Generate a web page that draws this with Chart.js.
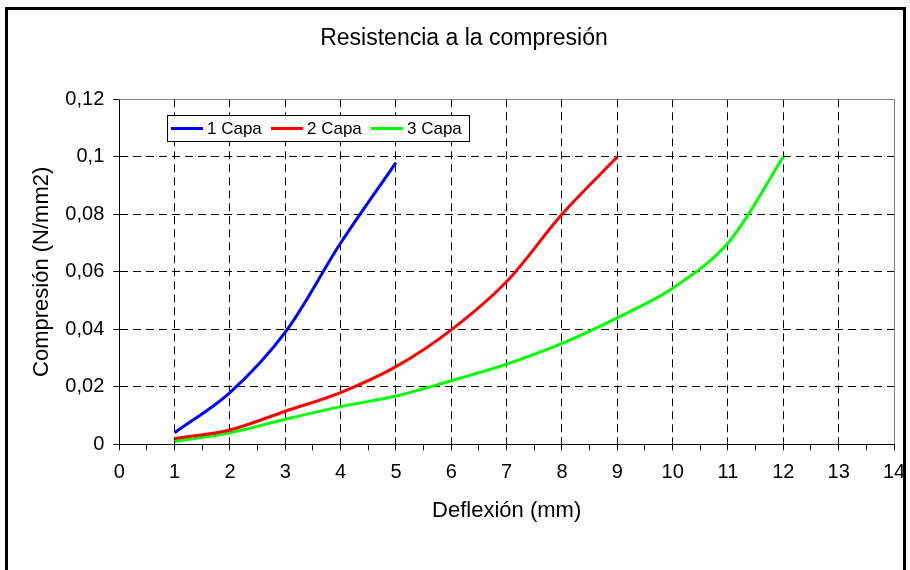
<!DOCTYPE html>
<html lang="es">

<head>
  <meta charset="UTF-8">
  <title>Resistencia a la compresión</title>
  <!-- Chart.js para dibujar el gráfico -->
  <script src="https://cdn.jsdelivr.net/npm/chart.js"></script>
  <style>
    body { margin: 0; background: #fff; overflow: hidden; }
    /* marco exterior del gráfico */
    #marco { position: absolute; left: 5px; top: 7px; width: 901px; height: 700px; border: 3px solid #000; box-sizing: border-box; }
    #grafico { position: absolute; left: 0; top: 0; }
  </style>
</head>

<body>
  <div id="marco"></div>
  <canvas id="grafico" width="910" height="570"></canvas>
</body>

</html>
<script>
  // Datos (deflexión en mm, compresión en N/mm2)
  var deflexion1 = [1, 2, 3, 4, 5];
  var capa1 = [0.004, 0.018, 0.039, 0.07, 0.098];

  var deflexion2 = [1, 2, 3, 4, 5, 6, 7, 8, 9];
  var capa2 = [0.002, 0.005, 0.0115, 0.018, 0.027, 0.0398, 0.0566, 0.08, 0.1];

  var deflexion3 = [1, 2, 3, 4, 5, 6, 7, 8, 9, 10, 11, 12];
  var capa3 = [0.001, 0.004, 0.0087, 0.0131, 0.0168, 0.0221, 0.0279, 0.0351, 0.044, 0.0543, 0.07, 0.1];

  var nombres = ['1 Capa', '2 Capa', '3 Capa'];
  var colores = ['#0000FF', '#FF0000', '#00FF00'];

  var fuente = '"Liberation Sans", Arial, sans-serif';

  // junta x e y en puntos
  function puntos(xs, ys) {
    var lista = [];
    for (var i = 0; i < xs.length; i++) {
      lista.push({ x: xs[i], y: ys[i] });
    }
    return lista;
  }

  // 0,02 -> "0,02"
  function formatoComa(valor) {
    return (Math.round(valor * 100) / 100).toString().replace('.', ',');
  }

  // borde gris arriba/derecha y leyenda con marco
  var extras = {
    id: 'extras',
    beforeDatasetsDraw: function (chart) {
      var a = chart.chartArea;
      var ctx = chart.ctx;
      ctx.save();
      ctx.strokeStyle = '#808080';
      ctx.lineWidth = 1;
      ctx.beginPath();
      ctx.moveTo(a.left, Math.round(a.top) + 0.5);
      ctx.lineTo(Math.round(a.right) + 0.5, Math.round(a.top) + 0.5);
      ctx.lineTo(Math.round(a.right) + 0.5, a.bottom);
      ctx.stroke();
      ctx.restore();
    },
    afterDraw: function (chart) {
      var a = chart.chartArea;
      var ctx = chart.ctx;
      var x = Math.round(a.left + 48);
      var y = Math.round(a.top + 16);
      ctx.save();
      ctx.fillStyle = '#fff';
      ctx.fillRect(x, y, 302, 26);
      ctx.strokeStyle = '#000';
      ctx.lineWidth = 1;
      ctx.strokeRect(x + 0.5, y + 0.5, 302, 26);
      ctx.font = '17px ' + fuente;
      ctx.textBaseline = 'middle';
      chart.data.datasets.forEach(function (ds, i) {
        var x0 = x + 4 + i * 100;
        ctx.strokeStyle = ds.borderColor;
        ctx.lineWidth = 3;
        ctx.beginPath();
        ctx.moveTo(x0, y + 13.5);
        ctx.lineTo(x0 + 32, y + 13.5);
        ctx.stroke();
        ctx.fillStyle = '#000';
        ctx.fillText(ds.label, x0 + 36, y + 14);
      });
      ctx.restore();
    }
  };

  var conjuntos = [
    puntos(deflexion1, capa1),
    puntos(deflexion2, capa2),
    puntos(deflexion3, capa3)
  ];

  var datasets = [];
  for (var i = 0; i < conjuntos.length; i++) {
    datasets.push({
      label: nombres[i],
      data: conjuntos[i],
      borderColor: colores[i],
      backgroundColor: colores[i],
      borderWidth: 3,
      pointRadius: 0,
      tension: 0.33,
      fill: false
    });
  }

  var myChart = new Chart(document.getElementById('grafico'), {
    type: 'line',
    data: { datasets: datasets },
    options: {
      responsive: false,
      animation: false,
      layout: { padding: { left: 34, right: 16, top: 0, bottom: 0 } },
      plugins: {
        legend: { display: false },
        tooltip: { enabled: false },
        title: {
          display: true,
          text: 'Resistencia a la compresión',
          color: '#000',
          font: { family: fuente, size: 23, weight: 'normal', lineHeight: 1.2 },
          padding: { top: 24.4, bottom: 47.3 }
        }
      },
      scales: {
        x: {
          type: 'linear',
          min: 0,
          max: 14,
          afterFit: function (scale) {
            scale.height = 125.7;
            // el margen derecho lo da layout.padding
            scale.paddingLeft = 0;
            scale.paddingRight = 0;
          },
          ticks: {
            stepSize: 0.5,
            autoSkip: false,
            maxRotation: 0,
            padding: 10,
            color: '#000',
            font: { family: fuente, size: 20 },
            callback: function (v) { return Number.isInteger(v) ? v : ''; }
          },
          grid: {
            color: function (c) {
              var v = c.tick ? c.tick.value : 0;
              return (Number.isInteger(v) && v > 0 && v < 14) ? '#000' : 'rgba(0,0,0,0)';
            },
            lineWidth: 1,
            tickLength: 6,
            tickColor: '#000'
          },
          border: { display: true, color: '#000', width: 1, dash: [8, 5] },
          title: {
            display: true,
            text: 'Deflexión (mm)',
            color: '#000',
            font: { family: fuente, size: 22, lineHeight: 1.2 },
            padding: { top: 0, bottom: 45.8 }
          }
        },
        y: {
          min: 0,
          max: 0.12,
          afterFit: function (scale) { scale.width = 85.3; },
          ticks: {
            stepSize: 0.02,
            padding: 9,
            color: '#000',
            font: { family: fuente, size: 20 },
            callback: function (v) { return formatoComa(v); }
          },
          grid: {
            color: function (c) {
              var v = c.tick ? Math.round(c.tick.value * 100) : 0;
              return (v > 0 && v < 12) ? '#000' : 'rgba(0,0,0,0)';
            },
            lineWidth: 1,
            tickLength: 6,
            tickColor: '#000'
          },
          border: { display: true, color: '#000', width: 1, dash: [8, 5] },
          title: {
            display: true,
            text: 'Compresión (N/mm2)',
            color: '#000',
            font: { family: fuente, size: 22, lineHeight: 1.2 },
            padding: { top: -5.2, bottom: 0 }
          }
        }
      }
    },
    plugins: [extras]
  });
</script>
